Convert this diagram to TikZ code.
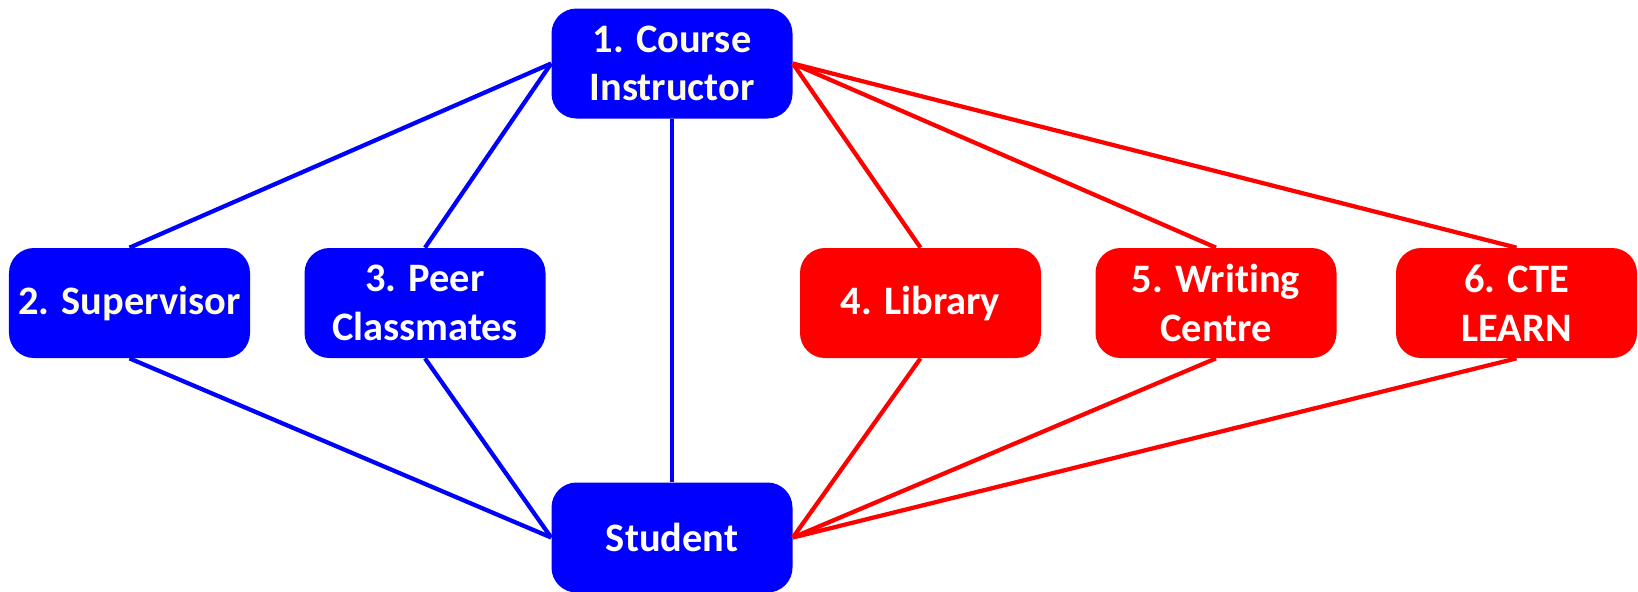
\documentclass[tikz,border=0pt]{standalone}
\usepackage{fontspec}
\setmainfont{Carlito}[Ligatures=NoCommon]
\usepackage{xcolor}
\usepackage{tikz}

\definecolor{cream}{RGB}{255,253,225}

\begin{document}
\begin{tikzpicture}[
    scale=1,
    every node/.style={
        rectangle,
        rounded corners=0.5cm,
        minimum width=4.82cm,
        minimum height=2.2cm,
        inner sep=0pt,
        align=center,
        font=\bfseries\fontsize{23}{27.6}\selectfont
    },
    bluebox/.style={fill=blue, text=white},
    redbox/.style={fill=red, text=white},
    blueline/.style={draw=blue, line width=0.085cm},
    redline/.style={draw=red, line width=0.085cm}
]
\useasboundingbox (0,0) rectangle (32.76,-11.82);

% Nodes
\node[bluebox, text=cream] (I) at (13.44,-1.27) {1. Course \\ Instructor};

\node[bluebox, text=cream] (S) at (2.59,-6.06) {2. Supervisor};
\node[bluebox] (P) at (8.50,-6.06) {3. Peer \\ Classmates};
\node[redbox] (L) at (18.41,-6.06) {4. Library};
\node[redbox] (W) at (24.32,-6.06) {5. Writing \\ Centre};
\node[redbox] (C) at (30.33,-6.06) {6. CTE \\ LEARN};

\node[bluebox] (St) at (13.44,-10.75) {Student};

% Connections
\draw[blueline] (I.west) -- (S.north);
\draw[blueline] (I.west) -- (P.north);
\draw[blueline] (I.south) -- (St.north);
\draw[blueline] (S.south) -- (St.west);
\draw[blueline] (P.south) -- (St.west);

\draw[redline] (I.east) -- (L.north);
\draw[redline] (I.east) -- (W.north);
\draw[redline] (I.east) -- (C.north);
\draw[redline] (L.south) -- (St.east);
\draw[redline] (W.south) -- (St.east);
\draw[redline] (C.south) -- (St.east);

\end{tikzpicture}
\end{document}
